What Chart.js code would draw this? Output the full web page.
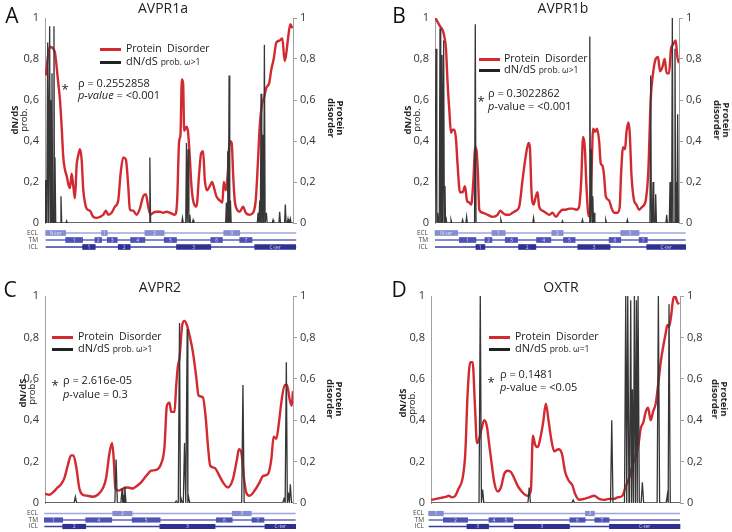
<!DOCTYPE html>
<html><head><meta charset="utf-8">
<script src="https://cdn.jsdelivr.net/npm/chart.js@4/dist/chart.umd.min.js"></script>
<style>
html,body{margin:0;padding:0;background:#fff;}
#wrap{position:relative;width:732px;height:532px;overflow:hidden;font-family:"Open Sans",sans-serif;color:#222;}
canvas{position:absolute;}
.t{position:absolute;white-space:nowrap;line-height:1;}
</style></head><body><div id="wrap"></div>
<script>
// ---------------- DATA (x = relative sequence position, %) ----------------
const disA_pos=[0.27,2.01,3.36,4.03,5.37,6.04,6.71,7.38,8.05,8.72,9.40,10.07,10.74,11.41,12.08,12.75,13.42,14.09,14.77,15.44,16.11,16.78,18.12,19.46,20.81,22.15,23.49,24.56,25.50,26.85,28.19,29.53,30.47,31.54,32.62,33.56,34.23,35.57,36.91,38.26,39.60,40.67,41.61,42.55,43.62,44.97,46.31,47.65,48.99,50.34,52.35,53.29,54.09,54.63,55.17,55.70,56.11,57.05,57.72,58.39,59.06,59.73,61.07,62.15,62.95,63.76,64.43,65.37,66.44,67.38,68.19,69.13,70.47,71.54,72.08,72.89,73.69,74.50,75.30,75.84,76.51,77.45,78.52,79.87,80.94,82.55,83.89,84.97,85.91,86.58,87.52,88.32,89.26,90.34,91.28,92.21,93.29,94.63,95.70,96.64,97.32,97.99,98.93,99.73];
const disA_val=[0.72,0.86,0.85,0.83,0.68,0.60,0.47,0.32,0.26,0.23,0.19,0.17,0.24,0.18,0.12,0.28,0.33,0.36,0.31,0.16,0.10,0.07,0.06,0.03,0.025,0.03,0.04,0.06,0.04,0.05,0.08,0.11,0.24,0.32,0.31,0.18,0.065,0.06,0.04,0.07,0.13,0.14,0.08,0.04,0.05,0.055,0.055,0.05,0.055,0.05,0.04,0.11,0.40,0.43,0.70,0.68,0.45,0.47,0.44,0.32,0.18,0.11,0.08,0.24,0.34,0.35,0.21,0.16,0.18,0.20,0.17,0.13,0.11,0.10,0.20,0.16,0.24,0.40,0.39,0.24,0.11,0.065,0.055,0.08,0.05,0.04,0.05,0.11,0.31,0.47,0.58,0.61,0.66,0.68,0.75,0.80,0.88,0.89,0.90,0.79,0.83,0.90,0.97,0.95];
const spkA_pos=[0.40,1.07,1.88,2.28,2.82,3.62,4.03,6.44,8.72,42.28,55.44,57.05,57.72,58.39,59.73,73.15,73.69,74.23,74.77,85.91,86.58,87.11,87.92,88.46,89.26,91.95,94.63,96.91,97.99,98.93];
const spkA_val=[0.21,0.88,0.96,0.60,0.73,0.96,0.32,0.13,0.01,0.32,0.025,0.39,0.36,0.04,0.015,0.10,0.35,0.72,0.11,0.05,0.11,0.63,0.43,0.87,0.05,0.015,0.055,0.09,0.02,0.02];

const disB_pos=[0.14,1.09,2.05,3.14,3.82,4.50,5.18,5.87,6.55,7.23,7.91,8.59,9.28,10.23,11.32,12.28,13.10,14.05,14.87,15.69,16.51,17.05,17.60,18.14,19.51,21.56,23.60,25.65,26.74,27.69,29.06,30.42,31.79,33.15,34.52,35.88,37.24,38.34,38.88,39.56,40.38,41.34,42.02,42.70,44.07,45.43,46.79,48.16,49.52,50.89,52.25,53.62,54.98,56.34,57.98,59.07,59.89,60.71,61.39,62.07,62.76,63.44,64.12,64.80,65.62,66.44,67.26,67.94,68.62,69.30,69.99,71.35,72.44,73.40,74.76,75.72,76.26,77.08,77.90,78.44,79.26,79.81,80.49,81.58,82.54,83.63,84.99,86.36,87.45,88.40,89.36,90.45,91.41,92.22,93.18,94.13,94.95,95.91,96.73,97.54,98.64,99.32,100];
const disB_val=[1.00,0.98,0.96,0.94,0.91,0.85,0.68,0.55,0.44,0.455,0.455,0.41,0.28,0.15,0.15,0.18,0.11,0.10,0.09,0.20,0.37,0.35,0.24,0.065,0.05,0.04,0.03,0.04,0.06,0.05,0.04,0.04,0.05,0.06,0.08,0.21,0.33,0.39,0.37,0.15,0.09,0.13,0.15,0.08,0.06,0.05,0.04,0.05,0.03,0.05,0.065,0.065,0.07,0.07,0.065,0.08,0.20,0.42,0.37,0.18,0.05,0.03,0.23,0.46,0.445,0.46,0.40,0.29,0.28,0.23,0.13,0.11,0.07,0.05,0.05,0.08,0.24,0.37,0.36,0.44,0.49,0.44,0.24,0.11,0.09,0.065,0.08,0.11,0.26,0.60,0.73,0.80,0.81,0.74,0.76,0.80,0.73,0.73,0.85,0.87,0.89,0.81,0.78];
const spkB_pos=[0.41,1.09,2.05,2.86,3.55,4.09,4.50,6.55,11.32,12.96,16.51,27.01,40.38,52.25,60.44,63.44,64.12,64.67,65.21,69.99,78.85,88.40,89.36,90.45,94.95,96.32,97.27,98.36,98.91,99.45];
const spkB_val=[0.85,0.05,0.95,0.82,0.89,0.18,0.03,0.015,0.015,0.03,0.97,0.015,0.025,0.01,0.015,0.91,0.36,0.13,0.05,0.015,0.015,0.72,0.20,0.14,0.04,0.20,1.00,0.85,0.20,0.53];

const disC_pos=[0,1.75,3.10,5.11,6.46,7.81,9.15,10.50,11.44,12.52,13.86,15.21,17.23,19.25,21.27,23.28,24.63,25.98,27.05,27.73,28.40,29.74,31.36,33.38,35.40,36.74,38.76,40.78,42.80,44.82,46.84,48.18,49.13,50.20,50.87,52.22,52.89,53.57,54.24,55.32,56.26,57.20,58.28,59.62,60.97,61.91,63.66,64.74,65.68,66.62,68.37,70.39,71.74,73.76,75.77,77.39,78.20,79.14,80.22,81.16,82.50,84.52,86.54,87.89,89.91,91.25,92.19,93.27,94.35,95.29,96.64,97.58,98.65,99.46,100];
const disC_val=[0.045,0.04,0.05,0.075,0.09,0.12,0.18,0.23,0.23,0.18,0.07,0.04,0.035,0.03,0.04,0.07,0.12,0.24,0.29,0.21,0.07,0.06,0.07,0.075,0.07,0.08,0.10,0.13,0.156,0.16,0.19,0.27,0.47,0.485,0.44,0.44,0.565,0.66,0.70,0.86,0.88,0.86,0.81,0.73,0.61,0.52,0.51,0.42,0.28,0.18,0.17,0.13,0.10,0.075,0.115,0.21,0.26,0.245,0.12,0.05,0.035,0.06,0.10,0.13,0.14,0.21,0.32,0.31,0.39,0.485,0.57,0.57,0.50,0.47,0.54];
const spkC_pos=[12.25,28.67,31.09,31.63,32.17,52.89,54.24,54.91,56.26,57.34,57.87,79.81,96.37,97.31,98.12,98.92];
const spkC_val=[0.03,0.21,0.07,0.04,0.08,0.01,0.87,0.02,0.29,0.84,0.03,0.57,0.02,0.68,0.05,0.09];

const disD_pos=[0,2.01,4.01,6.02,7.09,8.42,9.76,11.10,12.70,13.77,14.71,15.78,16.71,17.65,18.45,19.39,20.32,21.39,22.46,23.40,24.47,25.40,26.74,28.07,29.41,30.75,32.09,33.42,34.76,36.10,37.43,38.77,40.11,40.91,41.84,42.91,43.85,45.05,46.12,47.19,48.26,49.47,51.20,52.54,53.88,55.21,56.82,57.89,59.49,61.50,63.50,65.51,67.51,69.52,71.52,73.53,74.87,76.87,78.21,79.55,80.88,82.22,83.29,84.22,85.29,86.23,87.17,88.24,89.17,90.24,91.31,92.25,93.32,94.25,94.92,95.59,96.39,97.19,97.99,98.93,99.60];
const disD_val=[0.015,0.02,0.025,0.03,0.035,0.027,0.035,0.07,0.12,0.24,0.53,0.68,0.68,0.47,0.29,0.31,0.36,0.40,0.37,0.28,0.18,0.10,0.056,0.075,0.14,0.156,0.15,0.12,0.084,0.06,0.043,0.035,0.06,0.325,0.28,0.27,0.31,0.39,0.48,0.40,0.31,0.25,0.26,0.24,0.15,0.11,0.084,0.043,0.016,0.02,0.027,0.035,0.02,0.015,0.02,0.02,0.027,0.035,0.08,0.12,0.18,0.23,0.28,0.36,0.39,0.44,0.46,0.40,0.44,0.48,0.58,0.68,0.76,0.82,0.86,0.85,0.90,0.98,1.00,0.97,0.96];
const spkD_pos=[19.79,20.72,39.44,57.09,72.59,78.21,79.01,80.21,80.88,81.68,82.49,83.16,84.89,91.31,94.92,95.59];
const spkD_val=[1.00,0.065,0.075,0.015,0.40,1.00,1.00,0.98,0.55,1.00,0.98,1.00,0.10,1.00,0.04,0.96];

// topology segments [start,end] and their box labels
const rows=['ECL','TM','ICL'];
const topoA_ECL=[[0.27,8.32],[22.82,25.10],[40.27,48.05],[72.08,78.52]]; const labA_ECL=['N-ter','1','2','3'];
const topoA_TM=[[8.32,15.17],[20.13,22.82],[25.10,29.13],[34.50,40.27],[48.05,53.02],[66.85,71.54],[78.52,83.49]]; const labA_TM=['1','2','3','4','5','6','7'];
const topoA_ICL=[[15.17,20.27],[29.53,34.36],[53.02,66.85],[84.56,101.07]]; const labA_ICL=['1','2','3','C-ter'];
const spanA=[0.27,101.3];
const topoB_ECL=[[0,9.28],[23.33,28.79],[47.88,52.52],[76.13,83.63]]; const labB_ECL=['N-ter','1','2','3'];
const topoB_TM=[[9.96,16.78],[20.46,23.33],[28.79,33.83],[41.61,47.48],[52.66,57.43],[71.35,76.13],[83.63,87.04]]; const labB_TM=['1','2','3','4','5','6','7'];
const topoB_ICL=[[16.78,20.46],[34.24,41.34],[58.53,71.76],[86.77,102.73]]; const labB_ICL=['1','2','3','C-ter'];
const spanB=[0,102.73];
const topoC_ECL=[[27.32,35.13],[75.50,83.18]]; const labC_ECL=['2','3'];
const topoC_TM=[[-0.27,7.14],[16.42,26.92],[35.13,46.43],[69.11,75.50],[83.45,88.29]]; const labC_TM=['1','4','5','6','7'];
const topoC_ICL=[[7.14,16.42],[46.30,68.57],[88.69,101.08]]; const labC_ICL=['2','3','C-ter'];
const spanC=[-0.27,101.08];
const topoD_ECL=[[-0.94,4.95],[62.0,65.64]]; const labD_ECL=['1','3'];
const topoD_TM=[[4.95,14.71],[23.26,27.27],[27.27,32.89],[55.75,61.9],[65.78,71.52]]; const labD_TM=['2','4','5','6','7'];
const topoD_ICL=[[14.44,23.13],[33.42,55.61],[71.66,100.0]]; const labD_ICL=['3','3','C-ter'];
const spanD=[-0.94,100];

const titles=['AVPR1a','AVPR1b','AVPR2','OXTR'];
const letters=['A','B','C','D'];
const rhoText=['ρ = 0.2552858','ρ = 0.3022862','ρ = 2.616e-05','ρ = 0.1481'];
const pText=['= <0.001','= <0.001','= 0.3','= <0.05'];
const omegaText=['ω>1','ω>1','ω>1','ω=1'];
const yTicks=[0,0.2,0.4,0.6,0.8,1];

// ---------------- LAYOUT ----------------
const RED='#d22a30', DARK='#363636';
const C_ECL='#858cd0', C_TM='#4c52b8', C_ICL='#2e3192';
const L_ECL='#a0a5dc', L_TM='#5d63bf', L_ICL='#3a3e9c';
const panels=[
 {dis:[disA_pos,disA_val],spk:[spkA_pos,spkA_val],hw:0.3,topo:[[topoA_ECL,labA_ECL],[topoA_TM,labA_TM],[topoA_ICL,labA_ICL]],span:spanA,
  left:0,top:0,w:366,h:232,padT:18,padB:9,LW:45,RW:73,tTop:222,tH:36,tPad:7.5,bar:5,
  title:[163,8],letter:[12,15],leg:[100,48,61,126],stat:[65,88,78,82,94],yt:[19,120],yt2:[336,118],italicAll:true},
 {dis:[disB_pos,disB_val],spk:[spkB_pos,spkB_val],hw:0.3,topo:[[topoB_ECL,labB_ECL],[topoB_TM,labB_TM],[topoB_ICL,labB_ICL]],span:spanB,
  left:366,top:0,w:366,h:232,padT:18,padB:9,LW:69,RW:53,tTop:222,tH:36,tPad:7.5,bar:5,
  title:[563,8],letter:[399,15],leg:[479,58,69,504],stat:[481,100,488,92,105],yt:[412,120],yt2:[722,120]},
 {dis:[disC_pos,disC_val],spk:[spkC_pos,spkC_val],hw:0.5,topo:[[topoC_ECL,labC_ECL],[topoC_TM,labC_TM],[topoC_ICL,labC_ICL]],span:spanC,
  left:0,top:266,w:366,h:250,padT:30,padB:13,LW:45,RW:73,tTop:503,tH:34,tPad:7.25,bar:4.5,
  title:[160,287],letter:[10,289],leg:[52,336,348,78],stat:[55,384,63,379,393],yt:[27,393],yt2:[335,399]},
 {dis:[disD_pos,disD_val],spk:[spkD_pos,spkD_val],hw:0.5,topo:[[topoD_ECL,labD_ECL],[topoD_TM,labD_TM],[topoD_ICL,labD_ICL]],span:spanD,
  left:366,top:266,w:366,h:250,padT:30,padB:13,LW:65,RW:52,tTop:503,tH:34,tPad:7.25,bar:4.5,
  title:[561,287],letter:[399,289],leg:[489,336,348,515],stat:[491,381,500,373,386],yt:[407,403],yt2:[720,399]}
];

const wrap=document.getElementById('wrap');
function mkCanvas(l,t,w,h){const c=document.createElement('canvas');c.width=w;c.height=h;c.style.left=l+'px';c.style.top=t+'px';c.style.width=w+'px';c.style.height=h+'px';wrap.appendChild(c);return c;}
function txt(x,y,html,css,anchor){const d=document.createElement('div');d.className='t';d.innerHTML=html;d.style.left=x+'px';d.style.top=y+'px';d.style.cssText+=css||'';d.style.transform=(anchor||'translate(0,-50%)');wrap.appendChild(d);return d;}
function hline(x1,x2,y,color,th){const d=document.createElement('div');d.style.cssText=`position:absolute;left:${x1}px;top:${y-th/2}px;width:${x2-x1}px;height:${th}px;background:${color};`;wrap.appendChild(d);}
const fmt=v=>{const r=Math.round(v*10)/10;return r===0?'0':r===1?'1':r.toFixed(1).replace('.',',');};
const fitW=w=>s=>{s.width=w;s.paddingTop=0;s.paddingBottom=0;};

function spikeSeries(pos,val,hw){
  const pts=[{x:0,y:0}];
  for(let i=0;i<pos.length;i++){
    const p=pos[i],prev=pts[pts.length-1];
    const left=p-hw;
    if(left>prev.x) pts.push({x:left,y:0});
    pts.push({x:p,y:val[i]});
    const nxt=i+1<pos.length?pos[i+1]:100;
    const right=Math.min(p+hw,(p+nxt)/2);
    pts.push({x:right,y:0});
  }
  pts.push({x:100,y:0});
  return pts;
}

const boxText={id:'boxText',afterDatasetsDraw(chart){
  const ctx=chart.ctx;
  chart.data.datasets.forEach((ds,i)=>{
    if(!ds.boxLabels) return;
    chart.getDatasetMeta(i).data.forEach((el,j)=>{
      const t=ds.boxLabels[j]; if(!t) return;
      ctx.save();ctx.fillStyle='rgba(255,255,255,0.75)';ctx.font='5px "Open Sans"';
      ctx.textAlign='center';ctx.textBaseline='middle';
      ctx.fillText(t,(el.x+el.base)/2,el.y+0.3);ctx.restore();
    });
  });
}};

panels.forEach((P,k)=>{
  // main chart
  const c=mkCanvas(P.left,P.top,P.w,P.h);
  const dis=P.dis[0].map((x,i)=>({x,y:P.dis[1][i]}));
  const spk=spikeSeries(P.spk[0],P.spk[1],P.hw);
  const tickFont={family:'"Open Sans"',size:11};
  new Chart(c.getContext('2d'),{
    type:'line',
    data:{datasets:[
      {data:dis,yAxisID:'y2',borderColor:RED,borderWidth:2.4,pointRadius:0,cubicInterpolationMode:'monotone',order:1},
      {data:spk,yAxisID:'y',borderColor:DARK,borderWidth:1.3,pointRadius:0,tension:0,order:0}
    ]},
    options:{responsive:false,animation:false,events:[],
      plugins:{legend:{display:false},tooltip:{enabled:false}},
      layout:{autoPadding:false,padding:{top:P.padT,bottom:P.padB,left:0,right:0}},
      scales:{
        x:{type:'linear',min:0,max:100,display:false},
        y:{position:'left',min:0,max:1,afterFit:fitW(P.LW),
           afterBuildTicks:s=>{s.ticks=yTicks.map(v=>({value:v}));},
           grid:{display:false,drawTicks:false},border:{display:true,color:'#a0a0a0',width:1},
           ticks:{padding:6,color:'#333',font:tickFont,callback:fmt}},
        y2:{position:'right',min:0,max:1,afterFit:fitW(P.RW),
           afterBuildTicks:s=>{s.ticks=yTicks.map(v=>({value:v}));},
           grid:{display:true,drawOnChartArea:false,drawTicks:true,tickLength:4,color:'#a0a0a0'},
           border:{display:true,color:'#a0a0a0',width:1},
           ticks:{padding:3,color:'#333',font:tickFont,callback:fmt}}
      }}
  });
  // topology chart (rows on a numeric axis: 0=ECL,1=TM,2=ICL)
  const tc=mkCanvas(P.left,P.tTop,P.w,P.tH);
  const cols=[C_ECL,C_TM,C_ICL], lcols=[L_ECL,L_TM,L_ICL];
  const ds=[];
  rows.forEach((r,ri)=>{
    ds.push({type:'line',data:[{x:P.span[0],y:ri},{x:P.span[1],y:ri}],borderColor:lcols[ri],borderWidth:1.3,pointRadius:0,order:5,clip:false});
  });
  rows.forEach((r,ri)=>{
    const segs=P.topo[ri][0];
    ds.push({type:'bar',indexAxis:'y',data:segs.map(s=>({x:s,y:ri})),backgroundColor:cols[ri],barThickness:P.bar,grouped:false,clip:false,order:1,boxLabels:P.topo[ri][1]});
  });
  new Chart(tc.getContext('2d'),{
    type:'bar',
    data:{datasets:ds},
    plugins:[boxText],
    options:{indexAxis:'y',responsive:false,animation:false,events:[],
      plugins:{legend:{display:false},tooltip:{enabled:false}},
      layout:{autoPadding:false,padding:{top:P.tPad,bottom:P.tPad,left:0,right:P.RW}},
      scales:{
        x:{type:'linear',min:0,max:100,display:false,offset:false},
        y:{type:'linear',min:-0.5,max:2.5,reverse:true,offset:false,afterFit:fitW(P.LW),
           afterBuildTicks:s=>{s.ticks=rows.map((r,i)=>({value:i}));},
           grid:{display:false,drawTicks:false,offset:false},border:{display:false},
           ticks:{autoSkip:false,padding:7,color:'#444',font:{family:'"Open Sans"',size:6.5},callback:v=>rows[v]}}
      }}
  });

  // texts
  txt(P.title[0],P.title[1],titles[k],'font-size:14px;color:#222;','translate(-50%,-50%)');
  txt(P.letter[0],P.letter[1],letters[k],'font-size:21px;color:#111;','translate(-50%,-50%)');
  // legend
  hline(P.leg[0],P.leg[0]+21,P.leg[1]+1,RED,3);
  hline(P.leg[0],P.leg[0]+21,P.leg[2]+1,'#222',3);
  txt(P.leg[3],P.leg[1],'Protein&nbsp; Disorder','font-size:10.5px;color:#222;');
  txt(P.leg[3],P.leg[2],'dN/dS <span style="font-size:8.5px">prob. '+omegaText[k]+'</span>','font-size:11px;color:#222;');
  // stats
  txt(P.stat[0],P.stat[1],'*','font-size:13px;color:#222;','translate(-50%,-35%)');
  txt(P.stat[2],P.stat[3],rhoText[k],'font-size:11px;color:#222;');
  const pv=P.italicAll?'<i>p-value</i> '+pText[k]:'<i>p</i>-value '+pText[k];
  txt(P.stat[2],P.stat[4],pv,'font-size:11px;color:#222;');
  // axis titles
  txt(P.yt[0],P.yt[1],'<b>dN/dS</b><br>prob.','font-size:9.5px;line-height:9px;color:#222;text-align:center;','translate(-50%,-50%) rotate(-90deg)');
  txt(P.yt2[0],P.yt2[1],'<b>Protein<br>disorder</b>','font-size:9.5px;line-height:9px;color:#222;text-align:center;','translate(-50%,-50%) rotate(90deg)');
});
</script></body></html>
